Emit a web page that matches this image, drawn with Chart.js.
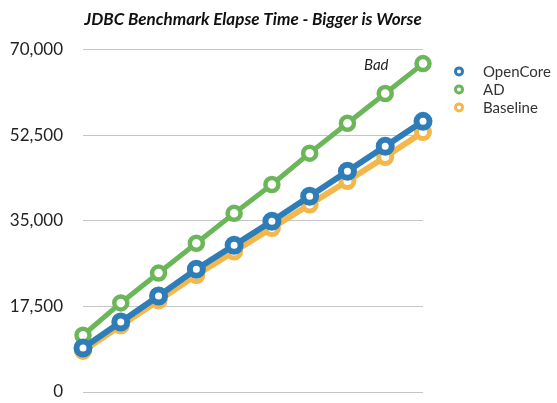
<!DOCTYPE html>
<html>
<head>
<meta charset="utf-8">
<script src="https://cdn.jsdelivr.net/npm/chart.js@4/dist/chart.umd.min.js"></script>
<style>
  html, body { margin: 0; padding: 0; background: #fff; }
  #wrap { width: 557px; height: 403px; }
</style>
</head>
<body>
<div id="wrap"><canvas id="myChart"></canvas></div>
<script>
// runs 1..10 on the x axis
const runs = ["1", "2", "3", "4", "5", "6", "7", "8", "9", "10"];

// elapsed time per run
const openCore = [9000, 14300, 19600, 25100, 30000, 34900, 40000, 45100, 50200, 55300];
const ad = [11600, 18200, 24300, 30400, 36500, 42400, 48800, 54900, 61000, 67100];
const baseline = [8400, 13600, 18700, 23900, 28700, 33500, 38300, 43100, 48000, 53100];

const yTicks = [0, 17500, 35000, 52500, 70000];

const blue = "#2e7db8";
const green = "#6cb65a";
const orange = "#f3b74b";

// legend + "Bad" note drawn next to the plot area
const extras = {
  id: "extras",
  afterDraw(chart) {
    const { ctx, chartArea, scales } = chart;
    ctx.save();
    ctx.textBaseline = "middle";

    ctx.font = "italic 15px Lato";
    ctx.fillStyle = "#222";
    ctx.textAlign = "center";
    ctx.fillText("Bad", scales.x.getPixelForValue(8) - 9, scales.y.getPixelForValue(66800));

    ctx.textAlign = "left";
    ctx.font = "15px Lato";
    chart.data.datasets.forEach((ds, i) => {
      const x = chartArea.right + 36;
      const y = chartArea.top + 22 + i * 18;
      ctx.beginPath();
      ctx.arc(x, y, 3.5, 0, Math.PI * 2);
      ctx.fillStyle = "#fff";
      ctx.fill();
      ctx.lineWidth = 3;
      ctx.strokeStyle = ds.borderColor;
      ctx.stroke();
      ctx.fillStyle = "#333";
      ctx.fillText(ds.label, x + 24, y + 1);
    });
    ctx.restore();
  },
};

const makeSet = (label, values, color, width, radius, ring) => ({
  label: label,
  data: values,
  borderColor: color,
  borderWidth: width,
  pointRadius: radius,
  pointBorderWidth: ring,
  pointBackgroundColor: "#fff",
  pointBorderColor: color,
  tension: 0,
  clip: false,
});

const config = {
  type: "line",
  data: {
    labels: runs,
    datasets: [
      makeSet("OpenCore", openCore, blue, 6, 6.5, 6),
      makeSet("AD", ad, green, 5, 6.5, 4.5),
      makeSet("Baseline", baseline, orange, 6, 6.5, 5),
    ],
  },
  options: {
    responsive: true,
    maintainAspectRatio: false,
    animation: false,
    layout: { autoPadding: false, padding: { left: 8, right: 134, top: 0, bottom: 11 } },
    plugins: {
      legend: { display: false },
      tooltip: { enabled: false },
      title: {
        display: true,
        fullSize: false,
        text: "JDBC Benchmark Elapse Time - Bigger is Worse",
        color: "#111",
        font: { family: "Lato", size: 17, style: "italic", weight: "bold" },
        padding: { top: 9, bottom: 20 },
      },
    },
    scales: {
      x: { display: false, offset: false },
      y: {
        min: 0,
        max: 70000,
        afterBuildTicks: (axis) => {
          axis.ticks = yTicks.map((v) => ({ value: v }));
        },
        // fixed axis width, no extra room under the 0 label
        afterFit: (axis) => {
          axis.width = 75;
          axis.paddingTop = 0;
          axis.paddingBottom = 0;
        },
        border: { display: false },
        grid: { color: "#c6c6c6", lineWidth: 1, drawTicks: false },
        ticks: {
          padding: 20,
          color: "#222",
          font: { family: "Lato", size: 17 },
          callback: (value) => value.toLocaleString("en-US"),
        },
      },
    },
  },
  plugins: [extras],
};

let myChart = new Chart(document.getElementById("myChart"), config);
</script>
</body>
</html>
